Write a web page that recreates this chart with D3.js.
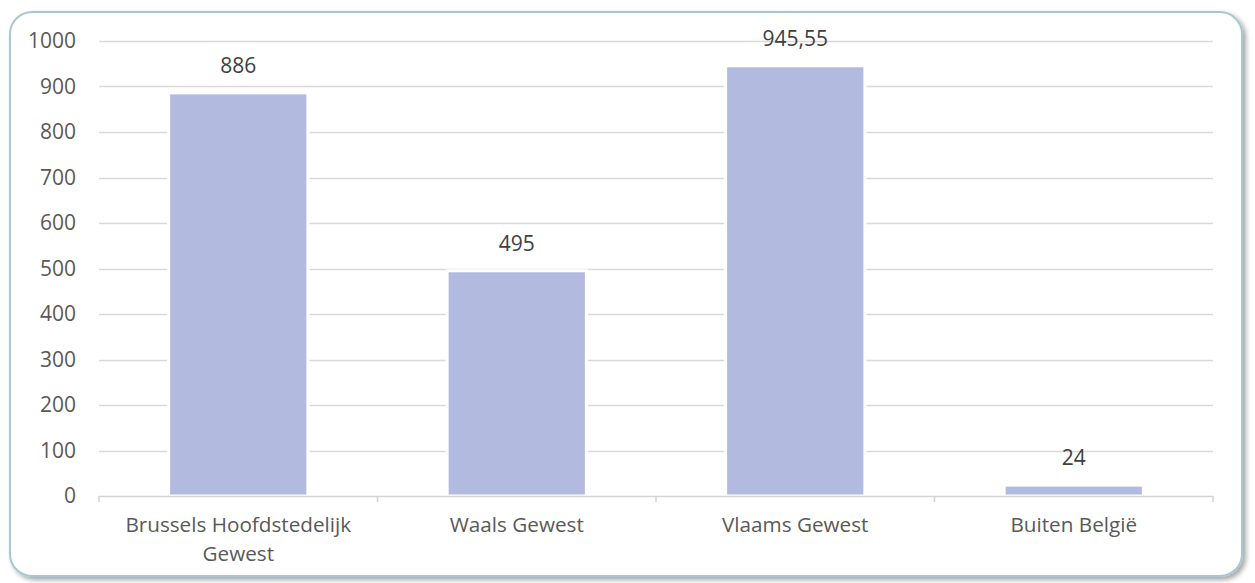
<!DOCTYPE html>
<html><head><meta charset="utf-8">
<script src="https://cdn.jsdelivr.net/npm/d3@7"></script>
<style>
html,body{margin:0;padding:0;background:#fff;}
svg{display:block;font-family:"Open Sans",sans-serif;}
</style></head>
<body><svg id="c" width="1255" height="583"></svg>
<script>
const categories = ["Brussels Hoofdstedelijk Gewest","Waals Gewest","Vlaams Gewest","Buiten België"];
const values = [886,495,945.55,24];
const valueLabels = ["886","495","945,55","24"];
const yTicks = [0,100,200,300,400,500,600,700,800,900,1000];

const svg = d3.select("#c");
const defs = svg.append("defs");
const f = defs.append("filter").attr("id","sh").attr("x","-5%").attr("y","-5%").attr("width","110%").attr("height","115%");
f.append("feDropShadow").attr("dx",3).attr("dy",3).attr("stdDeviation",2.5).attr("flood-color","#000").attr("flood-opacity",0.35);

svg.append("rect").attr("x",10).attr("y",12).attr("width",1232).attr("height",564)
  .attr("rx",22).attr("fill","#fff").attr("stroke","#a9c7d3").attr("stroke-width",2).attr("filter","url(#sh)");

const L=99,R=1213,T=41,B=496;
const x = d3.scaleBand().domain(categories).range([L,R]).paddingInner(0.5).paddingOuter(0.25);
const y = d3.scaleLinear().domain([0,1000]).range([B,T]);

const g = svg.append("g");
g.selectAll("line.grid").data(yTicks.filter(d=>d>0)).join("line").attr("class","grid")
  .attr("x1",L).attr("x2",R).attr("y1",d=>Math.round(y(d))+0.5).attr("y2",d=>Math.round(y(d))+0.5)
  .attr("stroke","#d9d9d9").attr("stroke-width",1.5);

g.selectAll("text.yt").data(yTicks).join("text").attr("class","yt")
  .attr("x",76).attr("y",d=>y(d)).attr("dy","0.35em").attr("text-anchor","end")
  .attr("font-size",21).attr("fill","#595959").text(d=>d);

// bars
g.selectAll("rect.bar").data(values).join("rect").attr("class","bar")
  .attr("x",(d,i)=>x(categories[i])).attr("width",x.bandwidth())
  .attr("y",d=>y(d)).attr("height",d=>B-y(d))
  .attr("fill","#b3badf").attr("stroke","#fff").attr("stroke-width",3);

// x axis line and ticks
const ax = svg.append("g");
ax.append("line").attr("x1",L).attr("x2",R).attr("y1",B+0.5).attr("y2",B+0.5).attr("stroke","#d4d4d4").attr("stroke-width",1.5);
const bounds = d3.range(categories.length+1).map(i=>L+i*(R-L)/categories.length);
ax.selectAll("line.tk").data(bounds).join("line").attr("class","tk")
  .attr("x1",d=>d).attr("x2",d=>d).attr("y1",B).attr("y2",B+6).attr("stroke","#d4d4d4").attr("stroke-width",1.5);

// value labels
g.selectAll("text.vl").data(values).join("text").attr("class","vl")
  .attr("x",(d,i)=>x(categories[i])+x.bandwidth()/2).attr("y",d=>y(d)-20)
  .attr("text-anchor","middle").attr("font-size",21).attr("fill","#404040")
  .text((d,i)=>valueLabels[i]);

// category labels with wrapping
const bandW = (R-L)/categories.length;
categories.forEach((c,i)=>{
  const cx = x(c)+x.bandwidth()/2;
  const t = svg.append("text").attr("x",cx).attr("y",532).attr("text-anchor","middle")
    .attr("font-size",20.7).attr("fill","#595959");
  const words = c.split(" ");
  let line=[], ts = t.append("tspan").attr("x",cx).attr("y",532), ln=0;
  words.forEach(w=>{
    line.push(w); ts.text(line.join(" "));
    if(ts.node().getComputedTextLength()>bandW-20 && line.length>1){
      line.pop(); ts.text(line.join(" ")); line=[w]; ln++;
      ts = t.append("tspan").attr("x",cx).attr("y",532+ln*29).text(w);
    }
  });
});
</script></body></html>
